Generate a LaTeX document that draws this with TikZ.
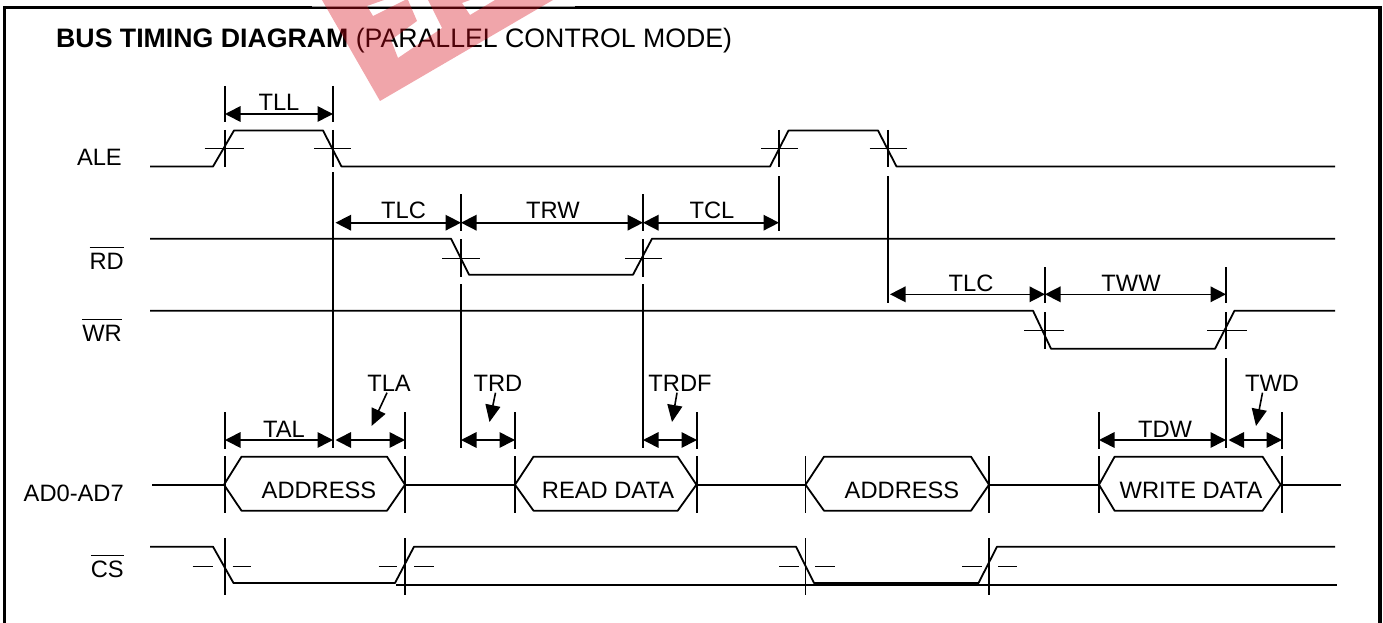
\documentclass[tikz,border=0pt]{standalone}
\usepackage{xcolor}
\usepackage{fontspec}
\setmainfont{Liberation Sans}
\usepackage{tikz}
\usetikzlibrary{arrows.meta}
\definecolor{stamp}{RGB}{215,10,25}
\newcommand{\barsig}[1]{$\overline{\mbox{#1}\rule{0pt}{20pt}}$}
\begin{document}
\begin{tikzpicture}[x=1pt, y=-1pt, >={Triangle[length=15.5pt,width=15.5pt]},
  sig/.style={line width=1.8pt, line join=round},
  tickline/.style={line width=1.4pt},
  dimarrow/.style={line width=1.6pt, <->},
  pointer/.style={line width=1.6pt, -{Triangle[length=17pt,width=15pt]}},
  lab/.style={inner sep=0pt, anchor=base, font=\fontsize{23.7}{26}\selectfont},
  signame/.style={lab, anchor=base east}]
  \useasboundingbox (0,0) rectangle (1383,623);
  \draw[line width=3.5pt] (4.5,623) -- (4.5,7.5) -- (1380,7.5) -- (1380,623);
  \node[lab, anchor=base west] (title) at (56,48) {\fontsize{26.7}{28}\selectfont\textbf{BUS TIMING DIAGRAM} (PARALLEL CONTROL MODE)};
  % timing points
  \foreach \name/\x in {aleRise/225, aleFall/333, aleRiseB/779, aleFallB/888, rdFall/461, rdRise/643, wrFall/1045, wrRise/1226, addrL/225, addrR/405, readL/515, readR/697, addrBL/805.5, addrBR/989, writeL/1099, writeR/1282}
    \coordinate (\name) at (\x,0);
  % signal names
  \node[signame] (ale) at (122,165) {ALE};
  \node[signame] (rd) at (124,269) {\barsig{RD}};
  \node[signame] (wr) at (122,341) {\barsig{WR}};
  \node[signame] (ad) at (124,501) {AD0-AD7};
  \node[signame] (cs) at (124,577) {\barsig{CS}};
  % waveforms
  \draw[sig] (150,166.5) -- (213,166.5) -- (234,130.5) -- (323,130.5) -- (341.5,166.5) -- (770,166.5) -- (788.5,130.5) -- (878,130.5) -- (896.5,166.5) -- (1335,166.5);
  \draw[sig] (150,238.7) -- (451,238.7) -- (469,274.7) -- (633,274.7) -- (652,238.7) -- (1335,238.7);
  \draw[sig] (150,310.7) -- (1033,310.7) -- (1051,348.7) -- (1215,348.7) -- (1234.5,310.7) -- (1335,310.7);
  \draw[sig] (150,546.7) -- (213,546.7) -- (233.5,583) -- (395,583) -- (414,546.7) -- (796,546.7) -- (814,583) -- (978.5,583) -- (997,546.7) -- (1335,546.7);
  \draw[sig] (396,585) -- (1337,585);
  % bus
  \draw[sig] (152,484.7) -- (224,484.7) (405,484.7) -- (515,484.7) (697,484.7) -- (805.5,484.7) (989,484.7) -- (1099,484.7) (1281,484.7) -- (1341,484.7);
  \draw[sig] (224,484.7) -- (241.5,456.7) -- (387,456.7) -- (405,484.7) -- (387,510.7) -- (241.5,510.7) -- cycle;
  \draw[sig] (515,484.7) -- (533.5,456.7) -- (677.7,456.7) -- (696.4,484.7) -- (677.7,510.7) -- (533.5,510.7) -- cycle;
  \draw[sig] (805.5,484.7) -- (824,456.7) -- (971,456.7) -- (989,484.7) -- (971,510.7) -- (824,510.7) -- cycle;
  \draw[sig] (1099,484.7) -- (1114.6,456.7) -- (1262.6,456.7) -- (1280.6,484.7) -- (1262.6,510.7) -- (1114.6,510.7) -- cycle;
  \node[lab] (addressA) at (319,498) {ADDRESS};
  \node[lab] (readdata) at (608,498) {READ DATA};
  \node[lab] (addressB) at (902,498) {ADDRESS};
  \node[lab] (writedata) at (1191,498) {WRITE DATA};
  % vertical marks
  \foreach \t/\a/\b in {aleRise/86/122, aleRise/130/167, aleFall/86/122, aleFall/130/167, aleFall/172/448, aleRiseB/130/167, aleRiseB/176/231, aleFallB/130/167, aleFallB/176/303,
    rdFall/194/231, rdFall/239/277, rdFall/284/448, rdRise/194/231, rdRise/239/277, rdRise/284/448,
    wrFall/267/303, wrFall/312/349, wrRise/267/303, wrRise/312/349, wrRise/358/448,
    addrL/412/449, addrR/412/449, readL/412/449, readR/412/449, writeL/412/449, writeR/412/449,
    addrL/456/513, addrR/456/513, readL/456/513, readR/456/513, addrBL/456/513, addrBR/456/513, writeL/456/513, writeR/456/513,
    addrL/538/595, addrR/538/595, addrBL/538/595, addrBR/538/595}
    \draw[tickline] (\t |- 0,\a) -- (\t |- 0,\b);
  % level marks
  \foreach \y/\a/\b in {148.5/204.5/243.7, 148.5/314/351, 148.5/761/798, 148.5/869.5/906.5,
    258.3/442/479.5, 258.3/625/661.5, 330.7/1024/1064, 330.7/1207/1247,
    566.7/192.5/213, 566.7/232.5/251, 566.7/378.5/397, 566.7/414/434, 566.7/779/798.5, 566.7/815/834.5, 566.7/962/981.5, 566.7/998/1017}
    \draw[tickline] (\a,\y) -- (\b,\y);
  % dimensions
  \draw[dimarrow] (aleRise |- 0,114) -- (aleFall |- 0,114);
  \draw[dimarrow, shorten <=2.5pt] (aleFall |- 0,222.7) -- (rdFall |- 0,222.7);
  \draw[dimarrow] (rdFall |- 0,222.7) -- (rdRise |- 0,222.7);
  \draw[dimarrow] (rdRise |- 0,222.7) -- (aleRiseB |- 0,222.7);
  \draw[dimarrow, shorten <=2pt] (aleFallB |- 0,294.3) -- (wrFall |- 0,294.3);
  \draw[dimarrow] (wrFall |- 0,294.3) -- (wrRise |- 0,294.3);
  \draw[dimarrow] (addrL |- 0,440) -- (aleFall |- 0,440);
  \draw[dimarrow, shorten <=2.5pt] (aleFall |- 0,440) -- (addrR |- 0,440);
  \draw[dimarrow] (rdFall |- 0,440) -- (readL |- 0,440);
  \draw[dimarrow] (rdRise |- 0,440) -- (readR |- 0,440);
  \draw[dimarrow] (writeL |- 0,440) -- (wrRise |- 0,440);
  \draw[dimarrow, shorten <=2.5pt] (wrRise |- 0,440) -- (writeR |- 0,440);
  \node[lab] (tll) at (279,111) {TLL};
  \node[lab] (tlcA) at (403.5,218) {TLC};
  \node[lab] (trw) at (553,218) {TRW};
  \node[lab] (tcl) at (712,218) {TCL};
  \node[lab] (tlcB) at (971,291) {TLC};
  \node[lab] (tww) at (1131,291) {TWW};
  \node[lab] (tal) at (284,437) {TAL};
  \node[lab] (tla) at (389,391) {TLA};
  \node[lab] (trd) at (498,391) {TRD};
  \node[lab] (trdf) at (680,391) {TRDF};
  \node[lab] (tdw) at (1165,437) {TDW};
  \node[lab] (twd) at (1272,391) {TWD};
  \coordinate (tlaTip) at (371.5,426);
  \coordinate (trdTip) at (489.5,422);
  \coordinate (trdfTip) at (672,422);
  \coordinate (twdTip) at (1256,426);
  \draw[pointer] (387,392.7) -- (tlaTip);
  \draw[pointer] (495.5,392.7) -- (trdTip);
  \draw[pointer] (677,392.7) -- (trdfTip);
  \draw[pointer] (1262.5,392.7) -- (twdTip);
  % stamp
  \fill[white, fill opacity=.6] (312,5.5) rectangle (575,7.3);
  \fill[stamp, fill opacity=.37, even odd rule] (322,0) -- (380,101) -- (553,0) -- cycle
    (367,6) -- (373,16) -- (405,0) -- (384,0) -- cycle
    (408,0) -- (428,0) -- (442,28) -- (398,58) -- (391,40) -- (417,21) -- cycle
    (462,3) -- (470,15) -- (495,0) -- (470,0) -- cycle;
\end{tikzpicture}
\end{document}
